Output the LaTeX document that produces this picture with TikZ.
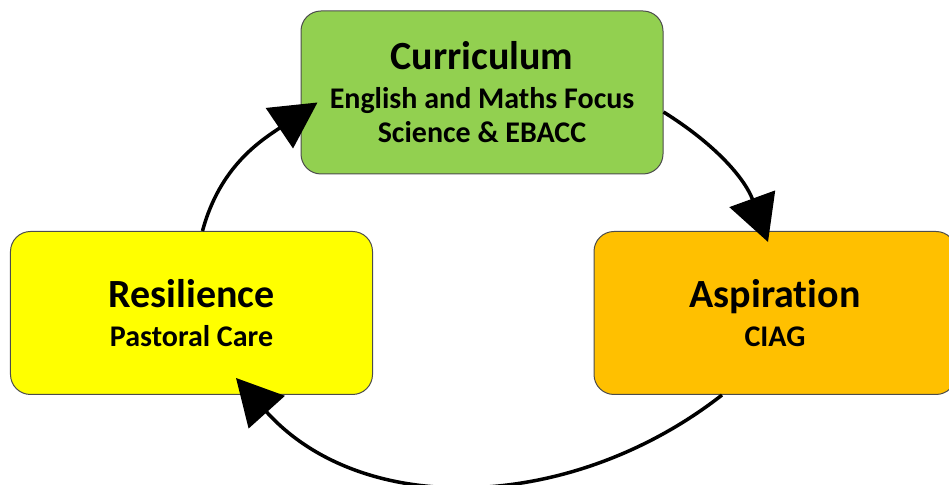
\documentclass[tikz,border=0pt]{standalone}
\usepackage{fontspec}
\setmainfont{Carlito}[Ligatures=NoCommon]
\usetikzlibrary{arrows.meta}

\definecolor{curgreen}{HTML}{92D050}
\definecolor{resyellow}{HTML}{FFFF00}
\definecolor{asporange}{HTML}{FFC000}
\newcommand{\headfont}{\fontsize{40bp}{40bp}\selectfont\bfseries}
\newcommand{\subfont}{\fontsize{30bp}{34bp}\selectfont\bfseries}

\begin{document}
\begin{tikzpicture}[x=1bp, y=1bp, thick,
  main/.style = {draw=black!70, line width=1bp, rounded corners=20bp, minimum width=362bp, minimum height=163bp, inner sep=0pt, align=center, font=\subfont},
  flow/.style = {line width=3.5bp, -{Triangle[length=46bp, width=48bp]}}]
\useasboundingbox (0,0) rectangle (949,485);
\node[main, fill=curgreen] (cur) at (482,392.5) {{\headfont Curriculum}\\[5bp] English and Maths Focus\\ Science \& EBACC};
\node[main, fill=resyellow] (res) at (191.5,172) {{\headfont Resilience}\\[5bp] Pastoral Care};
\node[main, fill=asporange] (asp) at (775,172) {{\headfont Aspiration}\\[5bp] CIAG};
\draw[flow, out=75, in=214] ([xshift=11bp]res.north) to ([xshift=17bp, yshift=-10bp]cur.west);
\draw[flow, out=-32, in=110] ([yshift=-19.5bp]cur.east) to ([xshift=-7bp, yshift=-11bp]asp.north);
\draw[flow, out=218, in=312] ([xshift=-53bp]asp.south) to ([xshift=44.5bp, yshift=17bp]res.south);
\end{tikzpicture}
\end{document}
